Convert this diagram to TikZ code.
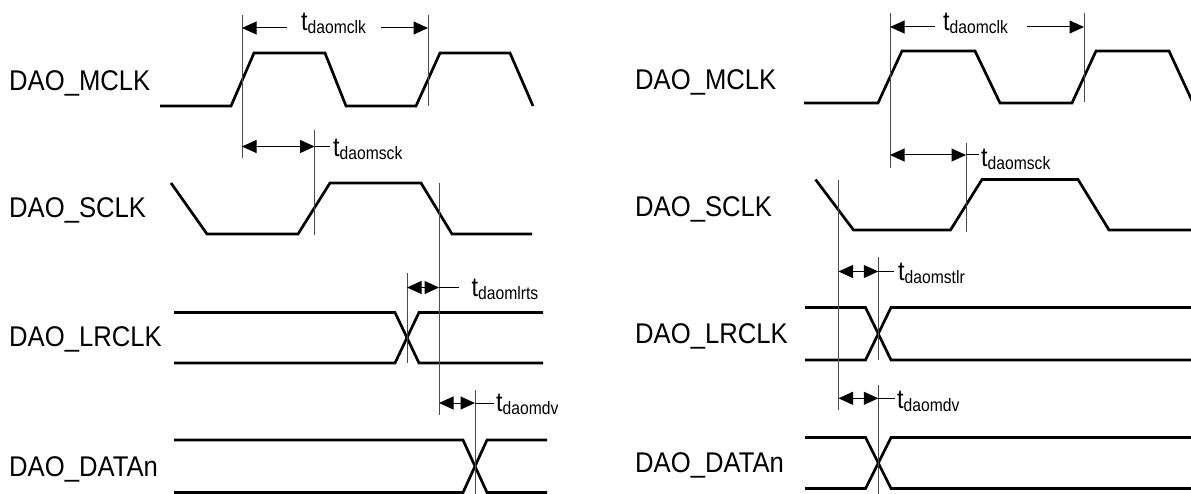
\documentclass[tikz,border=0pt]{standalone}
\usepackage{fontspec}
\setmainfont{Liberation Sans}
\usetikzlibrary{arrows.meta}
\newcommand{\tlab}[1]{\scalebox{0.87}[1]{t\raisebox{-3pt}{\fontsize{18}{18}\selectfont #1}}}
\newcommand{\slab}[1]{\scalebox{0.9}[1]{#1}}
\tikzset{
  sig/.style={line width=2.7pt, line join=miter, line cap=butt},
  refline/.style={line width=0.9pt, draw=black!70},
  dimarrow/.style={line width=1pt, {Triangle[length=14.5pt,width=13pt]}-{Triangle[length=14.5pt,width=13pt]}},
  halfarrow/.style={line width=1pt, -{Triangle[length=14.5pt,width=13pt]}},
  leader/.style={line width=1pt},
  siglabel/.style={anchor=base west, inner sep=0pt, font=\fontsize{28.5}{28.5}\selectfont},
  tlabel/.style={anchor=base west, inner sep=0pt, font=\fontsize{27}{27}\selectfont}
}
\begin{document}
\begin{tikzpicture}[x=1pt,y=-1pt]
\useasboundingbox (0,0) rectangle (1191,494);
\clip (0,0) rectangle (1191,494);

% ================= LEFT PANEL =================
\node[siglabel] (lmclk) at (9,91) {\slab{DAO\_MCLK}};
\node[siglabel] (lsclk) at (9,218) {\slab{DAO\_SCLK}};
\node[siglabel] (llrclk) at (9,346.5) {\slab{DAO\_LRCLK}};
\node[siglabel] (ldata) at (9,476) {\slab{DAO\_DATAn}};

% signals
\draw[sig] (160,106)--(231,106)--(254,53)--(325,53)--(346,106)--(416,106)--(440,53)--(510,53)--(533,106);
\draw[sig] (171,183)--(207,234)--(298,234)--(330,183)--(421,183)--(452,234)--(532,234);
\draw[sig] (174,312.5)--(395,312.5)--(419,363)--(543,363);
\draw[sig] (174,363)--(395,363)--(419,312.5)--(543,312.5);
\draw[sig] (174,440)--(463,440)--(487,492.5)--(547,492.5);
\draw[sig] (174,492.5)--(463,492.5)--(487,440)--(547,440);

% reference lines
\coordinate (lA1) at (242,15);  \coordinate (lA2) at (242,158);
\coordinate (lB1) at (428,15);  \coordinate (lB2) at (428,106);
\coordinate (lC1) at (314.6,130); \coordinate (lC2) at (314.6,235);
\coordinate (lD1) at (439,183); \coordinate (lD2) at (439,415);
\coordinate (lE1) at (407,273); \coordinate (lE2) at (407,363);
\coordinate (lF1) at (475,390); \coordinate (lF2) at (475,494);
\foreach \a/\b in {lA1/lA2,lB1/lB2,lC1/lC2,lD1/lD2,lE1/lE2,lF1/lF2}
  \draw[refline] (\a) -- (\b);

% t_daomclk
\node[tlabel] (lmclkt) at (301,31) {\tlab{daomclk}};
\coordinate (lmclkL) at (287,28); \coordinate (lmclkR) at (381,28);
\draw[halfarrow] (lmclkL) -- (lA1 |- lmclkL);
\draw[halfarrow] (lmclkR) -- (lB1 |- lmclkR);

% t_daomsck
\coordinate (lsckA) at (242,146.5);
\draw[dimarrow] (lsckA) -- (lC1 |- lsckA);
\node[tlabel] (lsckt) at (333,157) {\tlab{daomsck}};
\draw[leader] (lC1 |- lsckA) -- (330,146.5);

% t_daomlrts
\coordinate (llrA) at (407,287.5);
\draw[dimarrow] (llrA) -- (lD1 |- llrA);
\draw[leader] (lD1 |- llrA) -- (459,287.5);
\node[tlabel] (llrt) at (471.5,296.5) {\tlab{daomlrts}};

% t_daomdv
\coordinate (ldvA) at (439,403);
\draw[dimarrow] (ldvA) -- (lF1 |- ldvA);
\draw[leader] (lF1 |- ldvA) -- (493.5,403);
\node[tlabel] (ldvt) at (496,411.5) {\tlab{daomdv}};

% ================= RIGHT PANEL =================
\node[siglabel] (rmclk) at (635,89.5) {\slab{DAO\_MCLK}};
\node[siglabel] (rsclk) at (635,216.5) {\slab{DAO\_SCLK}};
\node[siglabel] (rlrclk) at (635,343.5) {\slab{DAO\_LRCLK}};
\node[siglabel] (rdata) at (635,472) {\slab{DAO\_DATAn}};

\draw[sig] (804,103)--(878,103)--(902,51)--(975,51)--(1000,103)--(1072,103)--(1096,51)--(1169,51)--(1194,105);
\draw[sig] (815.5,179.5)--(853.5,230)--(950.5,230)--(982,179.5)--(1078,179.5)--(1109,230)--(1194,230);
\draw[sig] (805,307.5)--(865.5,307.5)--(891,360)--(1194,360);
\draw[sig] (805,360)--(865.5,360)--(891,307.5)--(1194,307.5);
\draw[sig] (805,437.5)--(865.5,437.5)--(891,488.5)--(1194,488.5);
\draw[sig] (805,488.5)--(865.5,488.5)--(891,437.5)--(1194,437.5);

\coordinate (rA1) at (890,13);  \coordinate (rA2) at (890,168);
\coordinate (rB1) at (1084,13); \coordinate (rB2) at (1084,102);
\coordinate (rC1) at (966,143); \coordinate (rC2) at (966,232);
\coordinate (rD1) at (838.5,180); \coordinate (rD2) at (838.5,410);
\coordinate (rE1) at (878.3,257); \coordinate (rE2) at (878.3,360);
\coordinate (rF1) at (878.3,385); \coordinate (rF2) at (878.3,494);
\foreach \a/\b in {rA1/rA2,rB1/rB2,rC1/rC2,rD1/rD2,rE1/rE2,rF1/rF2}
  \draw[refline] (\a) -- (\b);

% t_daomclk
\node[tlabel] (rmclkt) at (943,30.5) {\tlab{daomclk}};
\coordinate (rmclkL) at (935,27); \coordinate (rmclkR) at (1026.6,27);
\draw[halfarrow] (rmclkL) -- (rA1 |- rmclkL);
\draw[halfarrow] (rmclkR) -- (rB1 |- rmclkR);

% t_daomsck
\coordinate (rsckA) at (890,155);
\draw[dimarrow] (rsckA) -- (rC1 |- rsckA);
\draw[leader] (rC1 |- rsckA) -- (979,155);
\node[tlabel] (rsckt) at (981,166.5) {\tlab{daomsck}};

% t_daomstlr
\coordinate (rstA) at (838.5,271.5);
\draw[dimarrow] (rstA) -- (rE1 |- rstA);
\draw[leader] (rE1 |- rstA) -- (894,271.5);
\node[tlabel] (rstt) at (898,280.5) {\tlab{daomstlr}};

% t_daomdv
\coordinate (rdvA) at (838.5,398.3);
\draw[dimarrow] (rdvA) -- (rF1 |- rdvA);
\draw[leader] (rF1 |- rdvA) -- (895,398.3);
\node[tlabel] (rdvt) at (897,408) {\tlab{daomdv}};
\end{tikzpicture}
\end{document}
